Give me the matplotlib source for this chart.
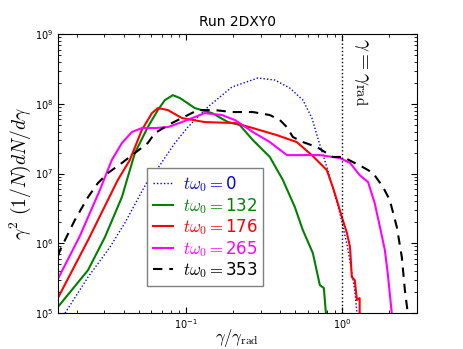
import matplotlib
matplotlib.use("Agg")
import matplotlib.pyplot as plt

plt.rcParams['mathtext.fontset'] = 'cm'
plt.rcParams['font.family'] = ['DejaVu Sans']

# t*omega_0 = 0
x0 = [0.0169, 0.0237, 0.0327, 0.0407, 0.0564, 0.0663, 0.0851, 0.103, 0.138, 0.197,
      0.288, 0.371, 0.462, 0.560, 0.639, 0.697, 0.807, 0.964, 1.08, 1.20, 1.24]
y0 = [1.0e5, 3.28e5, 8.8e5, 1.95e6, 7.55e6, 1.2e7, 2.74e7, 4.64e7, 8.98e7, 1.74e8,
      2.34e8, 2.19e8, 1.68e8, 1.13e8, 6.25e7, 3.23e7, 1.12e7, 2.72e6, 8.8e5, 2.14e5, 1.0e5]

# t*omega_0 = 132
x1 = [0.0152, 0.0237, 0.0304, 0.0390, 0.0472, 0.0571, 0.0662, 0.0734, 0.0826, 0.0916,
      0.114, 0.147, 0.186, 0.221, 0.268, 0.344, 0.417, 0.497, 0.559, 0.648, 0.718,
      0.762, 0.785]
y1 = [1.22e5, 4.13e5, 1.23e6, 4.6e6, 1.97e7, 4.64e7, 8.13e7, 1.13e8, 1.33e8, 1.21e8,
      8.69e7, 7.36e7, 5.47e7, 4.96e7, 3.02e7, 1.73e7, 8.07e6, 3.31e6, 1.55e6, 7.24e5,
      2.52e5, 2.28e5, 1.0e5]

# t*omega_0 = 176
x2 = [0.0152, 0.0237, 0.0367, 0.0438, 0.0523, 0.0607, 0.0663, 0.0768, 0.0943, 0.132,
      0.206, 0.268, 0.381, 0.511, 0.638, 0.796, 0.869, 0.922, 0.993, 1.07, 1.12,
      1.15, 1.20, 1.24, 1.29, 1.29]
y2 = [1.64e5, 1.11e6, 8.07e6, 1.56e7, 4.21e7, 7.36e7, 8.69e7, 8.13e7, 6.25e7, 5.47e7,
      5.3e7, 4.49e7, 3.56e7, 2.83e7, 1.84e7, 1.12e7, 6.4e6, 4.17e6, 2.38e6, 1.40e6, 8.8e5,
      3.28e5, 2.97e5, 1.54e5, 1.64e5, 1.0e5]

# t*omega_0 = 265
x3 = [0.0152, 0.0210, 0.0282, 0.0336, 0.0390, 0.0452, 0.0523, 0.0634, 0.0768, 0.0943,
      0.114, 0.132, 0.170, 0.206, 0.268, 0.344, 0.442, 0.718, 0.964, 1.12, 1.29, 1.46,
      1.61, 1.74, 1.87, 1.95, 2.07]
y3 = [3.07e5, 1.27e6, 5.8e6, 1.56e7, 2.74e7, 3.94e7, 4.49e7, 4.49e7, 4.64e7, 5.47e7,
      6.46e7, 7.36e7, 6.9e7, 5.85e7, 3.94e7, 2.83e7, 1.84e7, 1.84e7, 1.67e7, 1.42e7,
      9.5e6, 7.55e6, 3.78e6, 1.71e6, 8.0e5, 3.74e5, 1.0e5]

# t*omega_0 = 353
x4 = [0.0152, 0.0157, 0.0195, 0.0237, 0.0274, 0.0318, 0.0390, 0.0472, 0.0571, 0.0634,
      0.0814, 0.103, 0.119, 0.153, 0.197, 0.268, 0.344, 0.399, 0.442, 0.483, 0.559,
      0.687, 0.869, 1.01, 1.17, 1.35, 1.57, 1.82, 2.01, 2.23, 2.40, 2.51, 2.62]
y4 = [6.5e5, 8.0e5, 2.15e6, 4.6e6, 7.3e6, 1.02e7, 1.42e7, 1.97e7, 2.74e7, 3.81e7,
      5.3e7, 6.9e7, 8.13e7, 8.13e7, 7.62e7, 7.62e7, 6.9e7, 5.85e7, 4.64e7, 3.34e7, 2.83e7,
      2.40e7, 1.73e7, 1.73e7, 1.46e7, 1.24e7, 1.02e7, 6.4e6, 4.17e6, 1.71e6, 6.36e5,
      2.14e5, 1.0e5]

labels = ['0', '132', '176', '265', '353']
colors = ['blue', 'green', 'red', 'magenta', 'black']

fig = plt.figure(figsize=(4.63, 3.49), dpi=100)
ax = fig.add_axes([0.125, 0.103, 0.7756, 0.7994])

ax.plot(x0, y0, color=colors[0], lw=1.0, dashes=(1, 1.5), label=r'$t\omega_0=$' + labels[0])
ax.plot(x1, y1, '-', color=colors[1], lw=1.5, label=r'$t\omega_0=$' + labels[1])
ax.plot(x2, y2, '-', color=colors[2], lw=1.5, label=r'$t\omega_0=$' + labels[2])
ax.plot(x3, y3, '-', color=colors[3], lw=1.5, label=r'$t\omega_0=$' + labels[3])
ax.plot(x4, y4, color=colors[4], lw=1.5, dashes=(4.5, 3.3), label=r'$t\omega_0=$' + labels[4])

ax.axvline(1.0, color='black', ls=':', lw=1.0)
ax.text(1.33, 8.7e8, r'$\gamma=\gamma_{\rm rad}$', rotation=-90, fontsize=15,
        ha='center', va='top')

ax.set_xscale('log')
ax.set_yscale('log')
ax.set_xlim(0.0152, 3.0)
ax.set_ylim(1e5, 1e9)

ax.tick_params(which='both', direction='in', top=True, right=True, labelsize=7, pad=3)
ax.tick_params(which='major', length=4)
ax.tick_params(which='minor', length=2)

ax.set_xlabel(r'$\gamma/\gamma_{\rm rad}$', fontsize=12, labelpad=-3)
ax.set_ylabel(r'$\gamma^2\ (1/N) dN/d\gamma$', fontsize=14, labelpad=2)
ax.set_title('Run 2DXY0', fontsize=10)

leg = ax.legend(loc='lower left', bbox_to_anchor=(0.248, 0.097), fontsize=12,
                handlelength=1.2, handletextpad=0.6, fancybox=False, framealpha=1,
                borderaxespad=0, labelspacing=0.1, borderpad=0.35)
leg.get_frame().set_edgecolor('gray')
for txt, c in zip(leg.get_texts(), colors):
    txt.set_color(c)

fig.savefig('out.png', dpi=100)
